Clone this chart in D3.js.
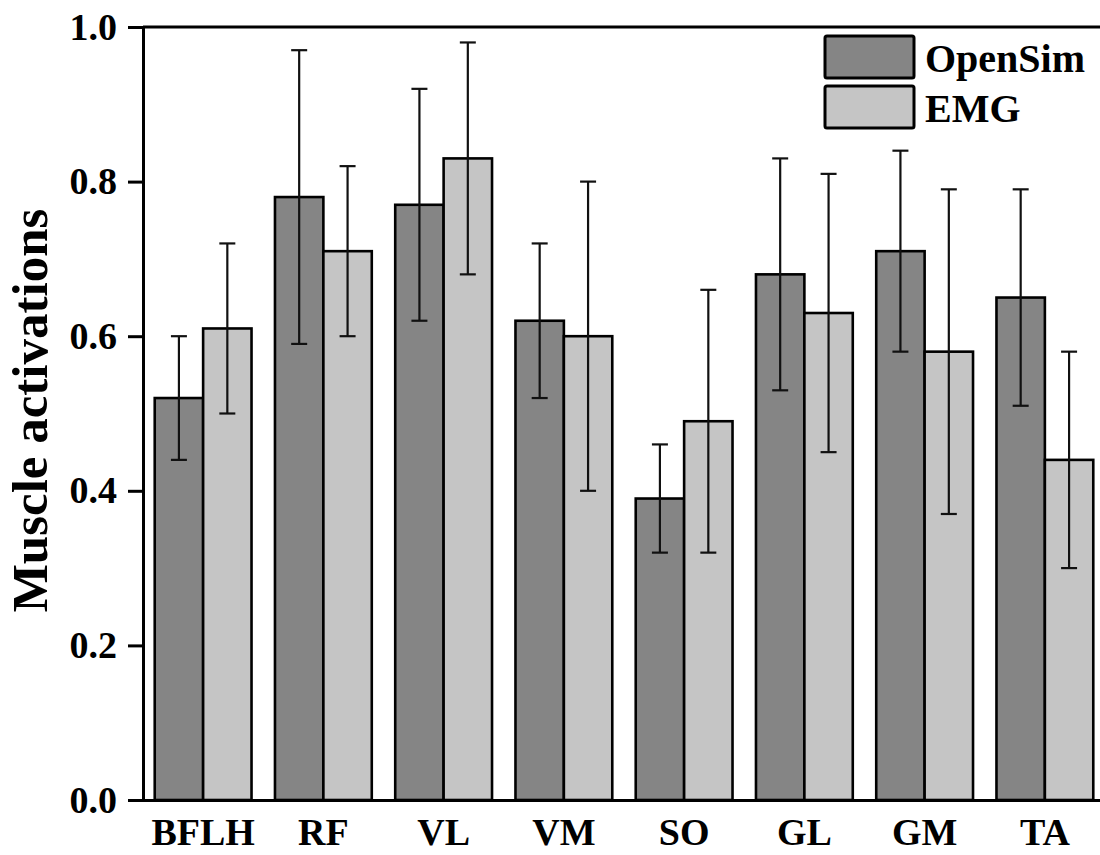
<!DOCTYPE html>
<html>
<head>
<meta charset="utf-8">
<script src="https://cdn.jsdelivr.net/npm/d3@7/dist/d3.min.js"></script>
<style>
  html, body { margin: 0; padding: 0; background: #fff; }
  svg { display: block; }
  text { font-family: "Liberation Serif", "Times New Roman", serif; font-weight: bold; fill: #000; }
</style>
</head>
<body>
<svg id="chart" width="1100" height="855"></svg>
<script>
// Muscle groups along the x axis
const muscles = ["BFLH", "RF", "VL", "VM", "SO", "GL", "GM", "TA"];
// Series names
const seriesNames = ["OpenSim", "EMG"];
// Mean activations
const openSimMean = [0.52, 0.78, 0.77, 0.62, 0.39, 0.68, 0.71, 0.65];
const emgMean     = [0.61, 0.71, 0.83, 0.60, 0.49, 0.63, 0.58, 0.44];
// Standard deviations (error bars)
const openSimSD = [0.08, 0.19, 0.15, 0.10, 0.07, 0.15, 0.13, 0.14];
const emgSD     = [0.11, 0.11, 0.15, 0.20, 0.17, 0.18, 0.21, 0.14];
// Y-axis tick values
const yTicks = [0.0, 0.2, 0.4, 0.6, 0.8, 1.0];

const fills = { "OpenSim": "#858585", "EMG": "#c5c5c5" };

const rows = muscles.map((m, i) => ({
  muscle: m,
  values: [
    { key: "OpenSim", mean: openSimMean[i], sd: openSimSD[i] },
    { key: "EMG", mean: emgMean[i], sd: emgSD[i] }
  ]
}));

const svg = d3.select("#chart");
const plotLeft = 143, plotRight = 1105, plotTop = 27, plotBottom = 800;

const x = d3.scaleBand().domain(muscles).range([plotLeft, plotRight]).paddingInner(0.195).paddingOuter(0.0975);
const xs = d3.scaleBand().domain(seriesNames).range([0, x.bandwidth()]);
const y = d3.scaleLinear().domain([0, 1]).range([plotBottom, plotTop]);

// Bars
const groups = svg.append("g").selectAll("g")
  .data(rows).join("g")
  .attr("transform", d => `translate(${x(d.muscle)},0)`);

groups.selectAll("rect")
  .data(d => d.values).join("rect")
  .attr("x", d => xs(d.key))
  .attr("y", d => y(d.mean))
  .attr("width", xs.bandwidth())
  .attr("height", d => y(0) - y(d.mean))
  .attr("fill", d => fills[d.key])
  .attr("stroke", "#000")
  .attr("stroke-width", 2.6);

// Error bars
const capHalf = 8;
const err = groups.selectAll("g.err")
  .data(d => d.values).join("g").attr("class", "err")
  .attr("stroke", "#111").attr("stroke-width", 2.2);
err.append("line")
  .attr("x1", d => xs(d.key) + xs.bandwidth() / 2)
  .attr("x2", d => xs(d.key) + xs.bandwidth() / 2)
  .attr("y1", d => y(d.mean + d.sd))
  .attr("y2", d => y(d.mean - d.sd));
err.append("line")
  .attr("x1", d => xs(d.key) + xs.bandwidth() / 2 - capHalf)
  .attr("x2", d => xs(d.key) + xs.bandwidth() / 2 + capHalf)
  .attr("y1", d => y(d.mean + d.sd))
  .attr("y2", d => y(d.mean + d.sd));
err.append("line")
  .attr("x1", d => xs(d.key) + xs.bandwidth() / 2 - capHalf)
  .attr("x2", d => xs(d.key) + xs.bandwidth() / 2 + capHalf)
  .attr("y1", d => y(d.mean - d.sd))
  .attr("y2", d => y(d.mean - d.sd));

// Y axis
const yAxis = svg.append("g")
  .attr("transform", `translate(${plotLeft},0)`)
  .call(d3.axisLeft(y).tickValues(yTicks).tickFormat(d3.format(".1f")).tickSize(15).tickPadding(11));
yAxis.select(".domain").attr("stroke", "#000").attr("stroke-width", 3);
yAxis.selectAll(".tick line").attr("stroke", "#000").attr("stroke-width", 3);
yAxis.selectAll(".tick text")
  .style("font-family", '"Liberation Serif", "Times New Roman", serif')
  .style("font-weight", "bold").style("font-size", "38px").attr("fill", "#000");

// X axis (no ticks)
const xAxis = svg.append("g")
  .attr("transform", `translate(0,${plotBottom})`)
  .call(d3.axisBottom(x).tickSize(0).tickPadding(18));
xAxis.select(".domain").attr("stroke", "#000").attr("stroke-width", 3);
xAxis.selectAll(".tick text")
  .style("font-family", '"Liberation Serif", "Times New Roman", serif')
  .style("font-weight", "bold").style("font-size", "38px").attr("fill", "#000");

// Top frame line
svg.append("line")
  .attr("x1", plotLeft).attr("x2", plotRight)
  .attr("y1", plotTop).attr("y2", plotTop)
  .attr("stroke", "#000").attr("stroke-width", 3);

// Y axis title
svg.append("text")
  .attr("transform", `translate(47,${(plotTop + plotBottom) / 2 - 3}) rotate(-90)`)
  .attr("text-anchor", "middle")
  .style("font-size", "51px")
  .text("Muscle activations");

// Legend
const legend = svg.append("g").attr("transform", "translate(825,36)");
const li = legend.selectAll("g").data(seriesNames).join("g")
  .attr("transform", (d, i) => `translate(0,${i * 50})`);
li.append("rect")
  .attr("width", 89).attr("height", 42).attr("rx", 2)
  .attr("fill", d => fills[d]).attr("stroke", "#000").attr("stroke-width", 3);
li.append("text")
  .attr("x", 100).attr("y", 36)
  .style("font-size", "40px")
  .text(d => d);
</script>
</body>
</html>
